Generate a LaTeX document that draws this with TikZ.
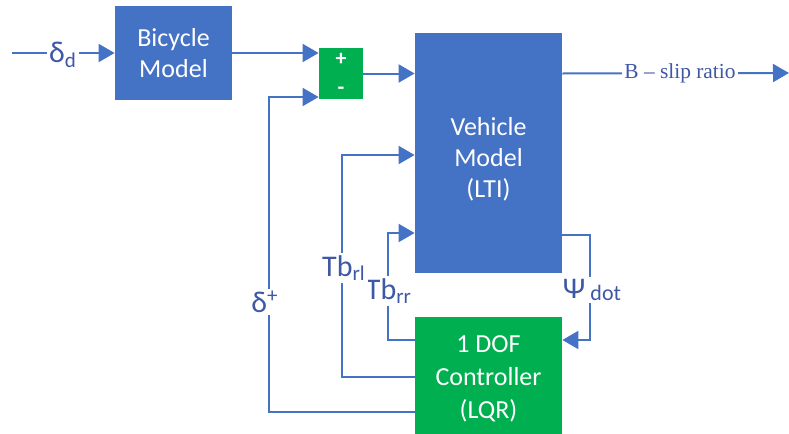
\documentclass[tikz,border=0pt]{standalone}
\usepackage{fontspec}
\setmainfont{Carlito}
\newfontfamily\timesfont{Liberation Serif}
\usetikzlibrary{arrows.meta}
\definecolor{boxblue}{HTML}{4472C4}
\definecolor{boxgreen}{HTML}{00B050}
\definecolor{labblue}{HTML}{3F58A6}
\tikzset{
	block/.style={fill=boxblue, text=white, align=center, inner sep=0pt, font=\fontsize{13}{15.5}\selectfont},
	ctrlblock/.style={block, fill=boxgreen, font=\fontsize{13}{16.5}\selectfont},
	sign/.style={text=white, inner sep=0pt, font=\bfseries\fontsize{11}{12}\selectfont},
	wire/.style={draw=boxblue, line width=1pt},
	sig/.style={wire, -{Triangle[length=8pt,width=9pt]}},
	lab/.style={fill=white, text=labblue, inner sep=1pt, font=\fontsize{15}{18}\selectfont}
}
\begin{document}
\begin{tikzpicture}[x=0.5pt, y=-0.5pt]
		\useasboundingbox (0,0) rectangle (789,434);
		\node[block, minimum width=58.5pt, minimum height=47pt] (bike) at (173.5,53) {Bicycle\\Model};
		\node[block, fill=boxgreen, minimum width=22pt, minimum height=25.5pt] (sum) at (341,73.5) {};
		\node[sign] (plus) at (341,59) {+};
		\node[sign] (minus) at (341,91) {-};
		\node[block, minimum width=73.5pt, minimum height=120pt] (veh) at (488.5,153) {};
		\node[block, fill=none] (vehtxt) at (488.5,159) {Vehicle\\Model\\(LTI)};
		\node[ctrlblock, minimum width=73.5pt, minimum height=61.5pt] (ctrl) at (488.5,378.5) {1 DOF\\Controller\\(LQR)};
		\coordinate (in) at (12,53);
		\coordinate (out) at (789,73);
		\draw[sig] (in) -- (bike.west);
		\draw[sig] (bike.east) -- (sum.west |- bike.east);
		\draw[sig] (sum.east) -- (sum.east -| veh.west);
		\draw[sig] (veh.east |- sum.east) -- (out);
		\draw[sig] (ctrl.west |- 0,412) -| (269,97) -- (sum.west |- 0,97);
		\draw[sig] (ctrl.west |- 0,377) -| (342,155) -- (veh.west |- 0,155);
		\draw[sig] (ctrl.west |- 0,340) -| (388,233) -- (veh.west |- 0,233);
		\draw[sig] (veh.east |- 0,235) -| (590,340) -- (ctrl.east |- 0,340);
		\node[lab] (dd) at (63,55) {δ\textsubscript{d}};
		\node[lab, font=\timesfont\fontsize{10.7}{13}\selectfont] (slip) at (680,73) {B – slip ratio};
		\node[lab] (dplus) at (265,302) {δ\textsuperscript{+}};
		\node[lab] (tbrr) at (389,291) {Tb\textsubscript{rr}};
		\node[lab] (tbrl) at (344,268) {Tb\textsubscript{rl}};
		\node[lab] (psi) at (592,290) {Ψ\,\raisebox{-0.2ex}{\fontsize{11}{13}\selectfont dot}};
\end{tikzpicture}
\end{document}
